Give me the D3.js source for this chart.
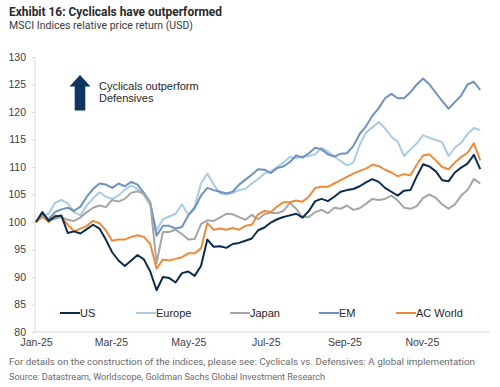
<!DOCTYPE html>
<html>
<head>
<meta charset="utf-8">
<script src="https://cdn.jsdelivr.net/npm/d3@7"></script>
<style>
  html, body { margin: 0; padding: 0; background: #fff; }
  svg { display: block; }
</style>
</head>
<body>
<svg id="chart" width="500" height="387"></svg>
<script>
// ---- Data (5-day sampling from 1 Jan 2025) ----
const startDate = new Date(2025, 0, 1);
const stepDays = 5;

const US = [100,101.8,100.2,101.0,101.2,98.0,98.3,97.9,98.7,99.5,
  98.8,96.8,94.5,93.0,92.0,93.0,94.0,93.2,91.0,87.6,
  90.0,89.8,89.0,90.7,91.0,90.2,92.0,96.8,95.5,95.6,
  95.3,96.0,96.2,96.6,97.0,98.5,99.0,99.9,100.5,100.9,
  101.2,101.5,100.8,102.0,103.8,104.2,103.8,104.6,105.5,105.8,
  106.0,106.5,107.2,107.8,107.3,106.2,105.5,104.8,105.7,105.8,
  108.3,110.5,110.1,109.2,107.6,107.4,109.0,109.9,110.6,112.2,109.6];

const Europe = [100,101.2,101.5,103.5,104.0,103.4,101.8,101.2,103.0,104.3,
  105.4,104.6,104.2,104.8,105.9,106.6,106.0,104.9,103.0,98.5,
  100.5,101.0,101.5,103.2,101.3,102.8,107.0,108.8,106.8,105.2,
  105.0,105.3,105.8,106.0,107.0,107.8,108.8,109.2,110.0,110.8,
  111.8,111.6,111.9,112.0,112.3,113.5,112.8,111.9,111.1,110.3,
  110.8,114.0,116.3,117.2,118.2,117.0,115.5,114.6,112.0,113.2,
  114.3,115.8,115.3,114.9,114.5,112.0,113.5,114.4,116.0,117.1,116.7];

const Japan = [100,101.0,100.2,100.6,100.9,100.4,100.2,100.8,101.8,102.6,
  103.0,102.7,104.0,103.7,104.2,105.3,105.6,105.2,103.5,92.5,
  98.2,98.2,98.6,97.8,96.8,96.9,99.6,100.3,100.2,100.8,
  101.5,101.4,100.9,100.4,101.3,100.5,101.4,101.7,101.6,102.0,
  103.5,102.4,100.9,100.9,101.8,102.2,101.6,102.6,102.4,103.0,
  102.2,102.5,103.3,104.2,104.0,104.2,104.8,103.9,102.6,102.4,
  102.9,104.4,105.0,104.4,103.2,102.4,103.2,104.8,105.8,107.8,107.0];

const EM = [100,101.5,100.5,101.8,102.3,102.6,102.0,102.8,104.6,106.0,
  107.0,106.8,106.2,107.0,106.5,107.3,106.8,105.3,103.6,97.5,
  99.3,99.3,98.8,99.1,101.2,102.5,104.8,106.2,105.8,105.5,
  105.2,105.5,106.8,107.7,108.6,109.6,109.5,108.9,109.8,110.1,
  110.9,112.1,111.7,112.5,113.5,113.2,112.3,111.9,112.4,112.5,
  113.8,116.0,117.4,119.3,120.7,122.5,123.3,122.5,122.5,123.6,
  125.0,126.1,125.0,123.5,122.0,120.6,121.8,123.0,125.0,125.5,124.0];

const ACWorld = [100,101.0,100.0,101.2,101.0,99.5,98.3,98.8,99.3,100.2,
  99.8,98.5,96.6,96.8,96.8,97.3,97.6,97.3,96.0,91.5,
  93.2,93.0,93.3,93.6,94.3,94.3,95.2,99.8,98.6,98.8,
  98.6,98.9,98.6,99.3,99.5,101.4,102.0,101.8,102.8,103.6,
  103.6,103.9,103.7,104.6,106.2,106.4,106.4,107.0,107.6,108.2,
  108.8,109.3,109.7,110.4,110.2,109.5,109.0,108.3,108.7,108.5,
  110.4,112.1,112.3,111.2,110.0,109.6,110.8,111.8,112.6,114.3,111.2];

const seriesNames = ["US", "Europe", "Japan", "EM", "AC World"];
const seriesValues = [US, Europe, Japan, EM, ACWorld];
const seriesColors = ["#0c2c4f", "#a9cbe3", "#a5a5a5", "#6f92bd", "#ec8b3b"];
const drawOrder = [1, 3, 2, 4, 0];

const yTicks = [80, 85, 90, 95, 100, 105, 110, 115, 120, 125, 130];
const xTickLabels = ["Jan-25", "Mar-25", "May-25", "Jul-25", "Sep-25", "Nov-25"];
const xTickDates = [new Date(2025,0,1), new Date(2025,2,1), new Date(2025,4,1),
                    new Date(2025,6,1), new Date(2025,8,1), new Date(2025,10,1)];

const titleText = "Exhibit 16: Cyclicals have outperformed";
const subtitleText = "MSCI Indices relative price return (USD)";
const noteText = "For details on the construction of the indices, please see: Cyclicals vs. Defensives: A global implementation";
const sourceText = "Source: Datastream, Worldscope, Goldman Sachs Global Investment Research";
const annotationLines = ["Cyclicals outperform", "Defensives"];

// ---- Chart ----
const svg = d3.select("#chart");
const dates = US.map((_, i) => d3.timeDay.offset(startDate, i * stepDays));

const x = d3.scaleTime()
  .domain([new Date(2025, 0, 1), new Date(2025, 11, 31)])
  .range([36, 498]);
const y = d3.scaleLinear().domain([80, 130]).range([332, 57]);

const axisColor = "#d9d9d9";
const textColor = "#404040";
const sansFont = "'Liberation Sans', Arial, sans-serif";
const humanist = "Roboto, 'Noto Sans', sans-serif";

// Title + subtitle
svg.append("text").attr("x", 9).attr("y", 15.5)
  .attr("font-family", humanist).attr("font-weight", 700).attr("font-size", 12.5)
  .attr("fill", "#2a2a2a").attr("textLength", 213).attr("lengthAdjust", "spacingAndGlyphs")
  .text(titleText);
svg.append("text").attr("x", 9).attr("y", 29)
  .attr("font-family", humanist).attr("font-size", 10)
  .attr("fill", "#3a3a3a").attr("textLength", 184).attr("lengthAdjust", "spacingAndGlyphs")
  .text(subtitleText);

// Y axis
const yAxis = d3.axisLeft(y).tickValues(yTicks).tickSize(3).tickPadding(6);
const gy = svg.append("g").attr("transform", "translate(35,0)").call(yAxis);
gy.selectAll("path, line").attr("stroke", axisColor);
gy.select(".domain").attr("d", `M0,${y(130)}V${y(80)}`);
gy.selectAll("text").attr("font-family", sansFont).attr("font-size", 10.5).attr("fill", textColor);

// X axis
const xAxis = d3.axisBottom(x).tickValues(xTickDates)
  .tickFormat((d, i) => xTickLabels[i]).tickSize(0).tickPadding(7);
const gx = svg.append("g").attr("transform", `translate(0,${y(80)})`).call(xAxis);
gx.select(".domain").attr("stroke", axisColor).attr("d", `M35,0H490`);
gx.selectAll("text").attr("font-family", sansFont).attr("font-size", 10.5).attr("fill", textColor);

// Lines
const line = d3.line().x((d, i) => x(dates[i])).y(d => y(d));
drawOrder.forEach(k => {
  svg.append("path").datum(seriesValues[k])
    .attr("fill", "none").attr("stroke", seriesColors[k])
    .attr("stroke-width", 2).attr("stroke-linejoin", "round")
    .attr("d", line);
});

// Annotation arrow
const arrowColor = "#0e3462";
svg.append("path")
  .attr("d", "M80,75 L90.5,86.5 L85.3,86.5 L85.3,110.5 L74.7,110.5 L74.7,86.5 L69.5,86.5 Z")
  .attr("fill", arrowColor);
annotationLines.forEach((t, i) => {
  svg.append("text").attr("x", 99).attr("y", 89.5 + i * 12.5)
    .attr("font-family", sansFont).attr("font-size", 11).attr("fill", "#262626")
    .text(t);
});

// Legend
const legendX = [60, 136, 230, 319, 396];
seriesNames.forEach((name, i) => {
  const g = svg.append("g").attr("transform", `translate(${legendX[i]},313)`);
  g.append("line").attr("x1", 0).attr("x2", 20).attr("y1", 0).attr("y2", 0)
    .attr("stroke", seriesColors[i]).attr("stroke-width", 2);
  g.append("text").attr("x", 20).attr("y", 4)
    .attr("font-family", sansFont).attr("font-size", 11).attr("fill", "#262626")
    .text(name);
});

// Footer
svg.append("text").attr("x", 9).attr("y", 365)
  .attr("font-family", humanist).attr("font-size", 9.5)
  .attr("fill", "#6a6a6a").attr("textLength", 466).attr("lengthAdjust", "spacingAndGlyphs")
  .text(noteText);
svg.append("text").attr("x", 9).attr("y", 379.5)
  .attr("font-family", humanist).attr("font-size", 9)
  .attr("fill", "#6a6a6a").attr("textLength", 316).attr("lengthAdjust", "spacingAndGlyphs")
  .text(sourceText);
</script>
</body>
</html>
